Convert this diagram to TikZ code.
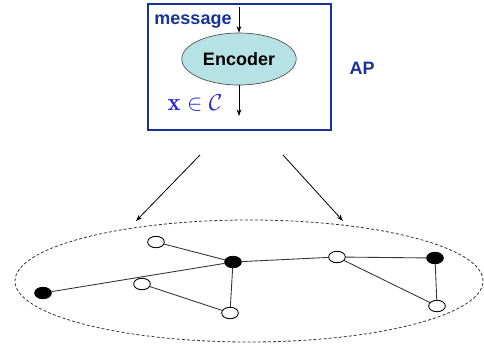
\documentclass[tikz,border=0pt]{standalone}
\usepackage{amsmath}
\usepackage{fontspec}
\newfontfamily\apfont{Liberation Sans}
\usetikzlibrary{shapes.geometric, arrows.meta}

\definecolor{boxblue}{RGB}{25,50,150}
\definecolor{mathblue}{RGB}{40,40,215}
\definecolor{encfill}{RGB}{182,226,230}

\tikzset{
  sensor/.style={draw, ellipse, inner sep=0pt, minimum width=12.5pt, minimum height=8.6pt, line width=0.65pt},
  open/.style={sensor, fill=white},
  full/.style={sensor, fill=black},
  link/.style={line width=0.65pt, draw=black!80},
  tip/.style={-{Stealth[length=5pt,width=3.5pt]}, line width=0.5pt}
}

\begin{document}
\begin{tikzpicture}[x=0.75pt,y=0.75pt,yscale=-1,xscale=1]
\useasboundingbox (0,0) rectangle (484,349);

% AP box
\draw [boxblue, line width=2pt] (148,4) rectangle (331,130);
% Encoder
\node [draw=black!70, ellipse, fill=encfill, minimum width=84pt, minimum height=39pt, line width=0.5pt] (enc) at (239,59) {\apfont\fontsize{13.5}{16}\selectfont\bfseries Encoder};
% Text Node
\node [text=boxblue, inner sep=0.75pt] (msg) at (193,21.5) {\apfont\fontsize{13.5}{16}\selectfont\bfseries message};
% Text Node
\node [text=mathblue, inner sep=0.75pt] (cw) at (195,103) {\fontsize{18.5}{22}\selectfont$\mathbf{x}\in\mathcal{C}$};
% Text Node
\node [text=boxblue, inner sep=0.75pt] (ap) at (362,68) {\apfont\fontsize{13.5}{16}\selectfont\bfseries AP};

\coordinate (msgin) at (239,7);
\coordinate (xout) at (239,116);
\draw [tip] (msgin) -- (enc.north);
\draw [tip] (enc.south) -- (xout);

% broadcast arrows
\coordinate (la) at (200,155);
\coordinate (lb) at (136,221);
\coordinate (ra) at (283,155);
\coordinate (rb) at (343,221);
\draw [tip, line width=0.6pt] (la) -- (lb);
\draw [tip, line width=0.6pt] (ra) -- (rb);

% network
\node [draw=black!80, dash pattern={on 2.2pt off 1.6pt}, ellipse, minimum width=351pt, minimum height=91.5pt, line width=0.6pt] (net) at (249,281) {};

\node [open] (u1) at (156,242) {};
\node [full] (b1) at (233,262) {};
\node [open] (u2) at (337,257) {};
\node [full] (b2) at (435,258) {};
\node [full] (b0) at (43,293) {};
\node [open] (u3) at (142,284) {};
\node [open] (u4) at (230,313) {};
\node [open] (u5) at (437,306) {};

\draw [link] (u1) -- (b1);
\draw [link] (b0) -- (b1);
\draw [link] (b1) -- (u4);
\draw [link] (u3) -- (u4);
\draw [link] (b1) -- (u2);
\draw [link] (u2) -- (b2);
\draw [link] (u2) -- (u5);
\draw [link] (b2) -- (u5);

\end{tikzpicture}
\end{document}
